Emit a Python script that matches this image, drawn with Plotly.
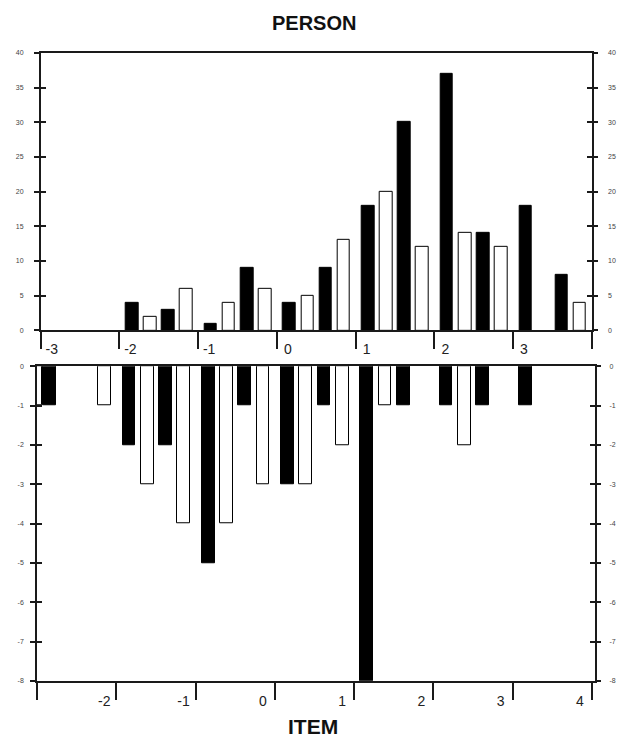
import plotly.graph_objects as go

# ---------------- data ----------------
person_black_x = [-1.84, -1.38, -0.84, -0.38, 0.16, 0.62, 1.16, 1.62, 2.16, 2.62, 3.16, 3.62]
person_black_y = [4, 3, 1, 9, 4, 9, 18, 30, 37, 14, 18, 8]
person_white_x = [-1.61, -1.15, -0.61, -0.15, 0.39, 0.85, 1.39, 1.85, 2.39, 2.85, 3.85]
person_white_y = [2, 6, 4, 6, 5, 13, 20, 12, 14, 12, 4]

item_black_x = [-2.84, -1.84, -1.38, -0.84, -0.38, 0.16, 0.62, 1.16, 1.62, 2.16, 2.62, 3.16]
item_black_y = [-1, -2, -2, -5, -1, -3, -1, -8, -1, -1, -1, -1]
item_white_x = [-3.02, -2.15, -1.61, -1.15, -0.61, -0.15, 0.39, 0.85, 1.39, 2.39]
item_white_y = [-1, -1, -3, -4, -4, -3, -3, -2, -1, -2]

x_tick_vals = [-3, -2, -1, 0, 1, 2, 3, 4]
person_x_labels = ['-3', '-2', '-1', '0', '1', '2', '3', '']
item_x_labels = ['', '-2', '-1', '0', '1', '2', '3', '4']
person_y_vals = [0, 5, 10, 15, 20, 25, 30, 35, 40]
person_y_labels = ['0', '5', '10', '15', '20', '25', '30', '35', '40']
item_y_vals = [0, -1, -2, -3, -4, -5, -6, -7, -8]
item_y_labels = ['0', '-1', '-2', '-3', '-4', '-5', '-6', '-7', '-8']

W, H = 618, 744
FONT = "Arial, Liberation Sans, sans-serif"
LINE = "#1a1a1a"
BAR_W = 0.16

fig = go.Figure()

def bars(x, y, fill, xa, ya):
    fig.add_trace(go.Bar(x=x, y=y, width=BAR_W, xaxis=xa, yaxis=ya,
                         marker=dict(color=fill, line=dict(color="black", width=1)),
                         showlegend=False, hoverinfo="skip"))

bars(person_black_x, person_black_y, "black", "x", "y")
bars(person_white_x, person_white_y, "white", "x", "y")
bars(item_black_x, item_black_y, "black", "x2", "y2")
bars(item_white_x, item_white_y, "white", "x2", "y2")

# empty helper traces so the overlaid tick axes are drawn
for xa, ya in [("x", "y3"), ("x", "y5"), ("x2", "y4"), ("x2", "y6")]:
    fig.add_trace(go.Scatter(x=[None], y=[None], xaxis=xa, yaxis=ya, mode="markers",
                             showlegend=False, hoverinfo="skip"))

top_x = [40.7 / W, 591.7 / W]
bot_x = [37.0 / W, 595.0 / W]
top_y = [(H - 329.5) / H, (H - 49.3) / H]
bot_y = [(H - 683.3) / H, (H - 365.7) / H]

tick_font = dict(family=FONT, size=14, color="#222")
tiny_font = dict(family=FONT, size=7, color="#444")

common_x = dict(showgrid=False, zeroline=False, showline=True, mirror=True,
                linecolor=LINE, linewidth=1.5, ticks="outside", tickcolor=LINE,
                tickwidth=1.5, tickvals=x_tick_vals, tickfont=tick_font)
common_y = dict(showgrid=False, zeroline=False, tickcolor=LINE, tickwidth=1.5,
                ticklen=5, tickfont=tiny_font)

fig.update_layout(
    width=W, height=H, autosize=False,
    margin=dict(l=0, r=0, t=0, b=0),
    paper_bgcolor="white", plot_bgcolor="white",
    barmode="overlay", bargap=0,
    showlegend=False,
    xaxis=dict(domain=top_x, range=[-3, 4], anchor="y", ticklen=17,
               ticktext=person_x_labels, ticklabelshift=11, ticklabelstandoff=-12,
               **common_x),
    yaxis=dict(domain=top_y, range=[0, 40], anchor="x", showline=True, mirror=True,
               linecolor=LINE, linewidth=1.5, ticks="outside",
               tickvals=person_y_vals, ticktext=person_y_labels,
               ticklabelstandoff=9, **common_y),
    yaxis3=dict(overlaying="y", range=[0, 40], anchor="x", side="right",
                showline=False, ticks="outside", tickvals=person_y_vals,
                ticktext=person_y_labels, ticklabelstandoff=9, **common_y),
    yaxis5=dict(overlaying="y", range=[0, 40], anchor="x", showline=False,
                ticks="inside", mirror="ticks", tickvals=person_y_vals,
                showticklabels=False, **common_y),
    xaxis2=dict(domain=bot_x, range=[-3.0, 4.04], anchor="y2", ticklen=17,
                ticktext=item_x_labels, ticklabelshift=-12, ticklabelstandoff=-10,
                **common_x),
    yaxis2=dict(domain=bot_y, range=[-8, 0], anchor="x2", showline=True, mirror=True,
                linecolor=LINE, linewidth=1.5, ticks="outside",
                tickvals=item_y_vals, ticktext=item_y_labels,
                ticklabelstandoff=5, **common_y),
    yaxis4=dict(overlaying="y2", range=[-8, 0], anchor="x2", side="right",
                showline=False, ticks="outside", tickvals=item_y_vals,
                ticktext=item_y_labels, ticklabelstandoff=7, **common_y),
    yaxis6=dict(overlaying="y2", range=[-8, 0], anchor="x2", showline=False,
                ticks="inside", mirror="ticks", tickvals=item_y_vals,
                showticklabels=False, **common_y),
    annotations=[
        dict(text="<b>PERSON</b>", x=314 / W, y=(H - 19) / H, xref="paper", yref="paper",
             xanchor="center", yanchor="middle", showarrow=False,
             font=dict(family=FONT, size=20, color="#111")),
        dict(text="<b>ITEM</b>", x=313 / W, y=(H - 729) / H, xref="paper", yref="paper",
             xanchor="center", yanchor="middle", showarrow=False,
             font=dict(family=FONT, size=21, color="#111")),
    ],
)

fig.write_html("out.html", config={"displayModeBar": False},
               post_script="document.body.style.margin='0';document.body.style.padding='0';document.body.style.overflow='hidden';")
